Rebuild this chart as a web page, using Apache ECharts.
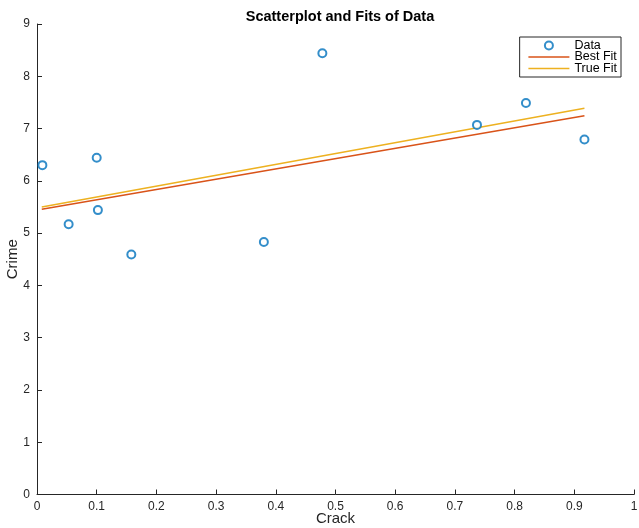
<!DOCTYPE html>
<html>
<head>
<meta charset="utf-8">
<script src="https://cdn.jsdelivr.net/npm/echarts@6/dist/echarts.min.js"></script>
<style>
html,body{margin:0;padding:0;background:#fff;}
#chart{width:639px;height:528px;}
</style>
</head>
<body>
<div id="chart"></div>
<script>
const crack = [0.009, 0.053, 0.100, 0.102, 0.158, 0.380, 0.478, 0.737, 0.819, 0.917];
const crime = [6.30, 5.17, 6.44, 5.44, 4.59, 4.83, 8.44, 7.07, 7.49, 6.79];
const fitX = [0.008, 0.917];
const bestFitY = [5.455, 7.245];
const trueFitY = [5.50, 7.387];
const xTicks = [0, 0.1, 0.2, 0.3, 0.4, 0.5, 0.6, 0.7, 0.8, 0.9, 1];
const yTicks = [0, 1, 2, 3, 4, 5, 6, 7, 8, 9];

const font = '"Liberation Sans", Arial, Helvetica, sans-serif';
const axisColor = '#262626';
const blue = '#0072BD', red = '#D95319', yellow = '#EDB120';

const chart = echarts.init(document.getElementById('chart'), null, {renderer: 'canvas'});
chart.setOption({
  animation: false,
  textStyle: {fontFamily: font},
  title: {
    text: 'Scatterplot and Fits of Data',
    left: 335, top: 4, textAlign: 'center',
    textStyle: {fontFamily: font, fontSize: 14.5, fontWeight: 'bold', color: '#000'}
  },
  legend: {
    orient: 'vertical',
    right: 18, top: 37,
    backgroundColor: '#fff',
    borderColor: axisColor, borderWidth: 1,
    padding: [2, 4, 2, 8],
    itemWidth: 41, itemHeight: 8, itemGap: -1.5,
    textStyle: {fontFamily: font, fontSize: 12.5, color: '#000', lineHeight: 11},
    data: [
      {name: 'Data', icon: 'emptyCircle', itemStyle: {color: blue, borderWidth: 1.5}},
      {name: 'Best Fit', itemStyle: {color: 'rgba(0,0,0,0)', borderWidth: 0, opacity: 0}, lineStyle: {color: red, width: 1.5}},
      {name: 'True Fit', itemStyle: {color: 'rgba(0,0,0,0)', borderWidth: 0, opacity: 0}, lineStyle: {color: yellow, width: 1.5}}
    ]
  },
  grid: {left: 37, right: 5, top: 24, bottom: 33.5, containLabel: false, outerBoundsMode: 'none'},
  xAxis: {
    type: 'value', min: 0, max: 1, interval: 0.1,
    name: 'Crack', nameLocation: 'middle', nameGap: 17, nameMoveOverlap: false,
    nameTextStyle: {fontFamily: font, fontSize: 15, color: axisColor},
    axisLine: {show: true, lineStyle: {color: axisColor, width: 1}},
    axisTick: {show: true, inside: true, length: 5, lineStyle: {color: axisColor}},
    axisLabel: {fontFamily: font, fontSize: 12, color: axisColor, margin: 6,
      formatter: v => xTicks.includes(Math.round(v*10)/10) ? String(Math.round(v*10)/10) : ''},
    splitLine: {show: false}
  },
  yAxis: {
    type: 'value', min: 0, max: 9, interval: 1,
    name: 'Crime', nameLocation: 'middle', nameGap: 17, nameMoveOverlap: false,
    nameTextStyle: {fontFamily: font, fontSize: 15, color: axisColor},
    axisLine: {show: true, lineStyle: {color: axisColor, width: 1}},
    axisTick: {show: true, inside: true, length: 5, lineStyle: {color: axisColor}},
    axisLabel: {fontFamily: font, fontSize: 12, color: axisColor, margin: 7,
      formatter: v => yTicks.includes(v) ? String(v) : ''},
    splitLine: {show: false}
  },
  series: [
    {
      name: 'Data', type: 'scatter',
      symbol: 'emptyCircle', symbolSize: 8,
      itemStyle: {color: blue, borderWidth: 1.5},
      data: crack.map((x, i) => [x, crime[i]]),
      z: 3
    },
    {
      name: 'Best Fit', type: 'line', symbol: 'none',
      lineStyle: {color: red, width: 1.5}, itemStyle: {color: red},
      data: fitX.map((x, i) => [x, bestFitY[i]])
    },
    {
      name: 'True Fit', type: 'line', symbol: 'none',
      lineStyle: {color: yellow, width: 1.5}, itemStyle: {color: yellow},
      data: fitX.map((x, i) => [x, trueFitY[i]])
    }
  ]
});
</script>
</body>
</html>
